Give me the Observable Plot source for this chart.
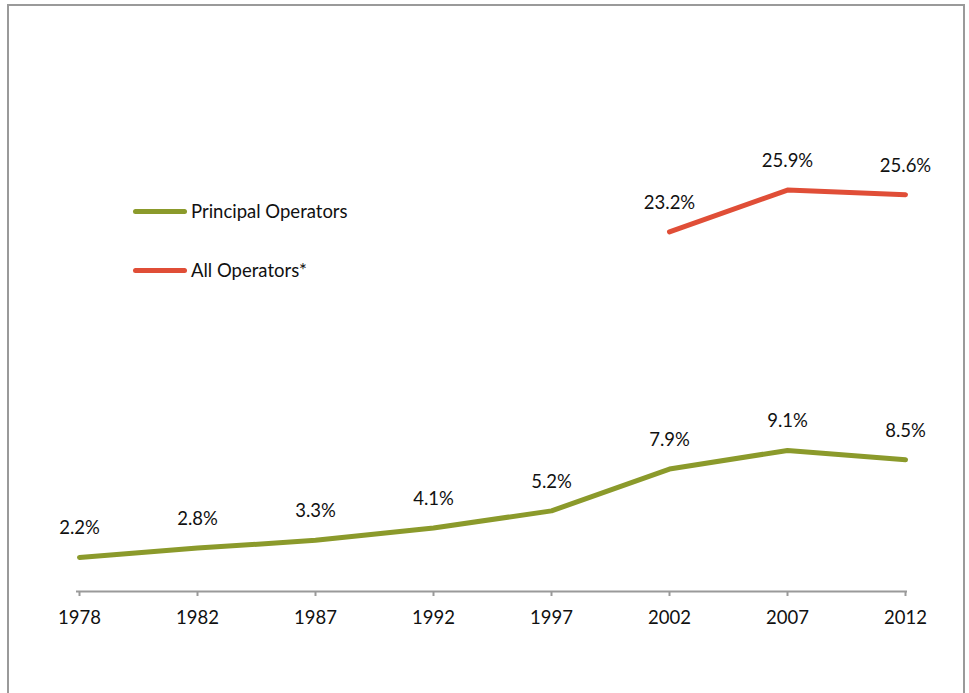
<!DOCTYPE html>
<html>
<head>
<meta charset="utf-8">
<script src="https://cdn.jsdelivr.net/npm/d3@7"></script>
<script src="https://cdn.jsdelivr.net/npm/@observablehq/plot@0.6"></script>
<style>
  html, body { margin: 0; padding: 0; background: #fff; }
  #wrap { position: relative; width: 969px; height: 693px; overflow: hidden; font-family: Lato, "Open Sans", sans-serif; }
  #frame { position: absolute; left: 7px; top: 4px; width: 958px; height: 720px; border: 2px solid #9a9a9a; box-sizing: border-box; }
  #chart { position: absolute; left: 0; top: 0; }
  .leg { position: absolute; left: 133px; display: flex; align-items: center; font-size: 18.5px; color: #111; }
  .leg .sw { width: 54px; height: 5px; border-radius: 3px; margin-right: 4px; }
</style>
</head>
<body>
<div id="wrap">
  <div id="frame"></div>
  <div id="chart"></div>
  <div id="legend"></div>
</div>
<script>
const years = ["1978", "1982", "1987", "1992", "1997", "2002", "2007", "2012"];
const principal = [2.2, 2.8, 3.3, 4.1, 5.2, 7.9, 9.1, 8.5];
const allOps = [null, null, null, null, null, 23.2, 25.9, 25.6];
const seriesNames = ["Principal Operators", "All Operators*"];
const seriesColors = ["#8b9a2b", "#e04e37"];

const rows = [];
years.forEach((y, i) => {
  if (principal[i] != null) rows.push({year: y, value: principal[i], series: seriesNames[0]});
  if (allOps[i] != null) rows.push({year: y, value: allOps[i], series: seriesNames[1]});
});

const chart = Plot.plot({
  width: 969,
  height: 693,
  marginLeft: 76,
  marginRight: 62,
  marginTop: 126,
  marginBottom: 102,
  style: {fontFamily: "Lato, 'Open Sans', sans-serif", fontSize: "18.5px", color: "#111", background: "transparent"},
  x: {type: "point", domain: years, padding: 0},
  y: {domain: [0, 30], axis: null},
  color: {domain: seriesNames, range: seriesColors},
  marks: [
    Plot.ruleY([0], {stroke: "#9a9a9a", strokeWidth: 2}),
    Plot.axisX({tickSize: 5, stroke: "#9a9a9a", strokeWidth: 2, tickPadding: 14, fontSize: 18.5, fill: "#111", label: null}),
    Plot.lineY(rows, {x: "year", y: "value", z: "series", stroke: "series", strokeWidth: 5, strokeLinecap: "round", strokeLinejoin: "round"}),
    Plot.text(rows, {x: "year", y: "value", text: d => d.value.toFixed(1) + "%", dy: -23, lineAnchor: "bottom", fill: "#111", fontSize: 18.5})
  ]
});
document.getElementById("chart").appendChild(chart);

const legend = document.getElementById("legend");
const legTops = [211, 270];
seriesNames.forEach((name, i) => {
  const div = document.createElement("div");
  div.className = "leg";
  div.style.top = (legTops[i] - 12) + "px";
  div.style.height = "24px";
  const sw = document.createElement("span");
  sw.className = "sw";
  sw.style.background = seriesColors[i];
  const tx = document.createElement("span");
  tx.textContent = name;
  div.appendChild(sw);
  div.appendChild(tx);
  legend.appendChild(div);
});
</script>
</body>
</html>
